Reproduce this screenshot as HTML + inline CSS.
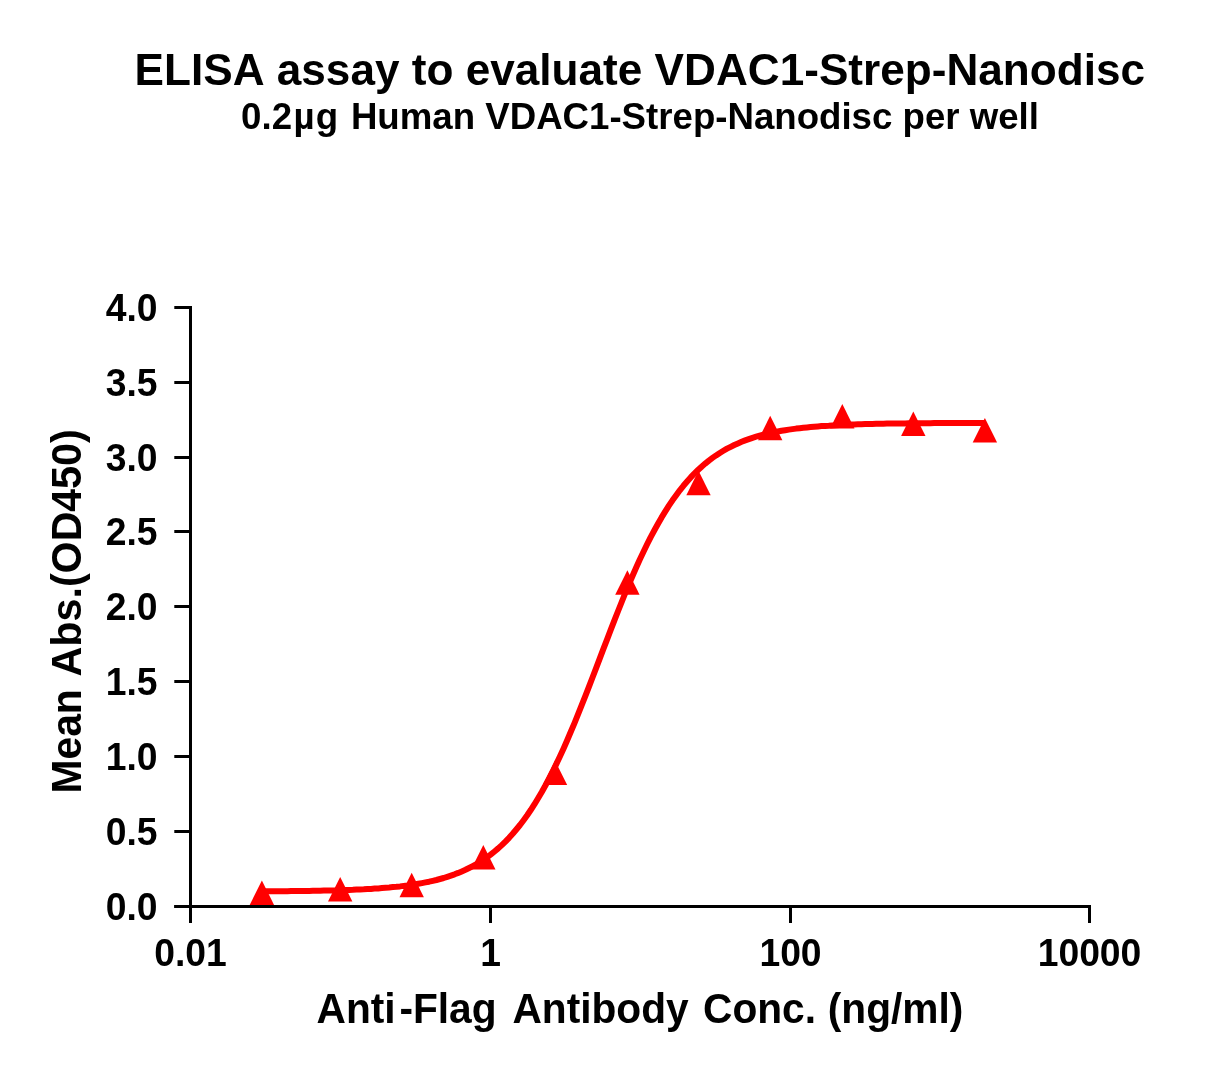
<!DOCTYPE html>
<html><head><meta charset="utf-8"><title>ELISA assay</title>
<style>
html,body{margin:0;padding:0;background:#fff;}
body{width:1217px;height:1075px;overflow:hidden;}
svg{display:block;}
text{font-family:"Liberation Sans",sans-serif;font-weight:bold;fill:#000;font-kerning:none;}
</style></head><body>
<svg width="1217" height="1075" viewBox="0 0 1217 1075">
<rect width="1217" height="1075" fill="#fff"/>
<text transform="translate(639.8,84.9) scale(1,1.015)" font-size="44.15" text-anchor="middle">ELISA assay to evaluate VDAC1-Strep-Nanodisc</text>
<text transform="translate(640,128.8) scale(1,1.03)" font-size="36.65" text-anchor="middle">0.2<tspan dx="1.5">µ</tspan><tspan dx="1.2">g</tspan><tspan dx="2.5"> </tspan>Human VDAC1-Strep-Nanodisc per well</text>
<g fill="#f00" stroke="none">
<path d="M262.0,891.4 L265.6,891.3 L269.3,891.3 L272.9,891.3 L276.5,891.3 L280.2,891.2 L283.8,891.2 L287.4,891.2 L291.1,891.1 L294.7,891.1 L298.3,891.1 L302.0,891.0 L305.6,891.0 L309.2,890.9 L312.9,890.8 L316.5,890.8 L320.1,890.7 L323.8,890.6 L327.4,890.6 L331.0,890.5 L334.7,890.4 L338.3,890.3 L341.9,890.2 L345.6,890.0 L349.2,889.9 L352.8,889.8 L356.5,889.6 L360.1,889.4 L363.7,889.3 L367.4,889.1 L371.0,888.9 L374.6,888.6 L378.3,888.4 L381.9,888.1 L385.5,887.8 L389.2,887.5 L392.8,887.1 L396.4,886.8 L400.1,886.4 L403.7,885.9 L407.3,885.5 L411.0,884.9 L414.6,884.4 L418.2,883.8 L421.9,883.1 L425.5,882.4 L429.1,881.7 L432.8,880.8 L436.4,880.0 L440.0,879.0 L443.7,878.0 L447.3,876.8 L450.9,875.6 L454.6,874.3 L458.2,872.9 L461.8,871.4 L465.5,869.8 L469.1,868.0 L472.7,866.1 L476.4,864.1 L480.0,861.9 L483.6,859.6 L487.3,857.1 L490.9,854.4 L494.5,851.5 L498.2,848.4 L501.8,845.1 L505.4,841.6 L509.1,837.8 L512.7,833.8 L516.3,829.5 L520.0,825.0 L523.6,820.2 L527.2,815.2 L530.9,809.8 L534.5,804.2 L538.1,798.2 L541.8,792.0 L545.4,785.5 L549.0,778.6 L552.7,771.5 L556.3,764.1 L559.9,756.4 L563.6,748.4 L567.2,740.2 L570.8,731.8 L574.5,723.1 L578.1,714.2 L581.7,705.1 L585.4,695.9 L589.0,686.6 L592.6,677.2 L596.3,667.7 L599.9,658.1 L603.5,648.6 L607.2,639.1 L610.8,629.6 L614.4,620.3 L618.1,611.0 L621.7,602.0 L625.3,593.0 L628.9,584.3 L632.6,575.8 L636.2,567.5 L639.8,559.5 L643.5,551.8 L647.1,544.3 L650.7,537.1 L654.4,530.3 L658.0,523.7 L661.6,517.4 L665.3,511.4 L668.9,505.7 L672.5,500.3 L676.2,495.2 L679.8,490.3 L683.4,485.8 L687.1,481.5 L690.7,477.4 L694.3,473.6 L698.0,470.0 L701.6,466.7 L705.2,463.6 L708.9,460.6 L712.5,457.9 L716.1,455.4 L719.8,453.0 L723.4,450.8 L727.0,448.7 L730.7,446.8 L734.3,445.0 L737.9,443.4 L741.6,441.8 L745.2,440.4 L748.8,439.1 L752.5,437.8 L756.1,436.7 L759.7,435.7 L763.4,434.7 L767.0,433.8 L770.6,432.9 L774.3,432.2 L777.9,431.5 L781.5,430.8 L785.2,430.2 L788.8,429.6 L792.4,429.1 L796.1,428.6 L799.7,428.2 L803.3,427.8 L807.0,427.4 L810.6,427.0 L814.2,426.7 L817.9,426.4 L821.5,426.1 L825.1,425.9 L828.8,425.7 L832.4,425.4 L836.0,425.2 L839.7,425.1 L843.3,424.9 L846.9,424.7 L850.6,424.6 L854.2,424.4 L857.8,424.3 L861.5,424.2 L865.1,424.1 L868.7,424.0 L872.4,423.9 L876.0,423.8 L879.6,423.8 L883.3,423.7 L886.9,423.6 L890.5,423.6 L894.2,423.5 L897.8,423.5 L901.4,423.4 L905.1,423.4 L908.7,423.3 L912.3,423.3 L916.0,423.3 L919.6,423.2 L923.2,423.2 L926.9,423.2 L930.5,423.2 L934.1,423.1 L937.8,423.1 L941.4,423.1 L945.0,423.1 L948.7,423.1 L952.3,423.0 L955.9,423.0 L959.6,423.0 L963.2,423.0 L966.8,423.0 L970.5,423.0 L974.1,423.0 L977.7,423.0 L981.4,423.0 L985.0,423.0" fill="none" stroke="#f00" stroke-width="6" stroke-linejoin="round"/>
<polygon points="261.9,880.4 249.7,904.9 274.1,904.9"/>
<polygon points="340.2,877.1 328.0,901.6 352.4,901.6"/>
<polygon points="411.7,872.7 399.5,897.2 423.9,897.2"/>
<polygon points="483.3,845.1 471.1,869.6 495.5,869.6"/>
<polygon points="555.0,760.6 542.8,785.1 567.2,785.1"/>
<polygon points="627.4,570.3 615.2,594.8 639.6,594.8"/>
<polygon points="698.5,470.7 686.3,495.2 710.7,495.2"/>
<polygon points="770.2,415.7 758.0,440.2 782.4,440.2"/>
<polygon points="842.3,403.9 830.1,428.4 854.5,428.4"/>
<polygon points="913.3,411.6 901.1,436.1 925.5,436.1"/>
<polygon points="984.9,418.1 972.7,442.6 997.1,442.6"/>
</g>
<g fill="#000">
<rect x="189" y="306" width="3" height="602"/>
<rect x="174.3" y="905" width="916.7" height="3"/>
<rect x="174.3" y="905" width="16" height="3"/>
<rect x="174.3" y="830" width="16" height="3"/>
<rect x="174.3" y="755" width="16" height="3"/>
<rect x="174.3" y="680" width="16" height="3"/>
<rect x="174.3" y="605" width="16" height="3"/>
<rect x="174.3" y="530" width="16" height="3"/>
<rect x="174.3" y="456" width="16" height="3"/>
<rect x="174.3" y="381" width="16" height="3"/>
<rect x="174.3" y="306" width="16" height="3"/>
<rect x="189" y="905" width="3" height="18"/>
<rect x="489" y="905" width="3" height="18"/>
<rect x="789" y="905" width="3" height="18"/>
<rect x="1088" y="905" width="3" height="18"/>
</g>
<g font-size="37.3">
<text transform="translate(157.6,919.9) scale(1,1.035)" text-anchor="end">0.0</text>
<text transform="translate(157.6,844.9) scale(1,1.035)" text-anchor="end">0.5</text>
<text transform="translate(157.6,769.9) scale(1,1.035)" text-anchor="end">1.0</text>
<text transform="translate(157.6,694.9) scale(1,1.035)" text-anchor="end">1.5</text>
<text transform="translate(157.6,619.9) scale(1,1.035)" text-anchor="end">2.0</text>
<text transform="translate(157.6,544.9) scale(1,1.035)" text-anchor="end">2.5</text>
<text transform="translate(157.6,470.9) scale(1,1.035)" text-anchor="end">3.0</text>
<text transform="translate(157.6,395.9) scale(1,1.035)" text-anchor="end">3.5</text>
<text transform="translate(157.6,320.9) scale(1,1.035)" text-anchor="end">4.0</text>
<text transform="translate(190.5,966) scale(1,1.035)" text-anchor="middle">0.01</text>
<text transform="translate(490.5,966) scale(1,1.035)" text-anchor="middle">1</text>
<text transform="translate(790.5,966) scale(1,1.035)" text-anchor="middle">100</text>
<text transform="translate(1089.5,966) scale(1,1.035)" text-anchor="middle">10000</text>
</g>
<text transform="translate(0,1023.4) scale(1,1.05)" font-size="40.7"><tspan x="316.5">Anti</tspan><tspan x="399.4">-Flag </tspan><tspan x="512.4">Antibody </tspan><tspan x="703">Conc. </tspan><tspan x="827.8">(ng/ml)</tspan></text>
<text transform="translate(81.4,0) rotate(-90) scale(1,1.04)" font-size="41.4"><tspan x="-793.5" font-size="40.8">Mean </tspan><tspan x="-676.5" font-size="41.25">Abs.(OD</tspan><tspan x="-512">450)</tspan></text>
</svg>
</body></html>
